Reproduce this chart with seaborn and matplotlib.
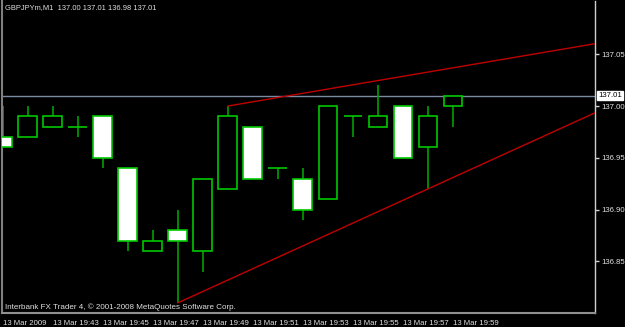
import numpy as np
import pandas as pd
import matplotlib
matplotlib.use("Agg")
import matplotlib.pyplot as plt
import seaborn as sns

# ---- data ----
times = ["19:41", "19:42", "19:43", "19:44", "19:45", "19:46", "19:47", "19:48", "19:49", "19:50",
         "19:51", "19:52", "19:53", "19:54", "19:55", "19:56", "19:57", "19:58", "19:59"]
opens  = [136.97, 136.97, 136.98, 136.98, 136.99, 136.94, 136.86, 136.88, 136.86, 136.92,
          136.98, 136.94, 136.93, 136.91, 136.99, 136.98, 137.00, 136.96, 137.00]
highs  = [137.00, 137.00, 137.00, 136.99, 136.99, 136.94, 136.88, 136.90, 136.93, 137.00,
          136.98, 136.94, 136.94, 137.00, 136.99, 137.02, 137.00, 137.00, 137.01]
lows   = [136.96, 136.97, 136.98, 136.97, 136.94, 136.86, 136.86, 136.81, 136.84, 136.92,
          136.93, 136.93, 136.89, 136.91, 136.97, 136.98, 136.95, 136.92, 136.98]
closes = [136.96, 136.99, 136.99, 136.98, 136.95, 136.87, 136.87, 136.87, 136.93, 136.99,
          136.93, 136.94, 136.90, 137.00, 136.99, 136.99, 136.95, 136.99, 137.01]
xtick_labels = ["13 Mar 2009", "13 Mar 19:43", "13 Mar 19:45", "13 Mar 19:47", "13 Mar 19:49",
                "13 Mar 19:51", "13 Mar 19:53", "13 Mar 19:55", "13 Mar 19:57", "13 Mar 19:59"]
ytick_values = [136.85, 136.90, 136.95, 137.00, 137.05]
current_price = 137.01
upper_anchor_x = [9, 19]
upper_anchor_y = [137.00, 137.041]
lower_anchor_x = [7, 17]
lower_anchor_y = [136.81, 136.92]
title_text = "GBPJPYm,M1  137.00 137.01 136.98 137.01"
footer_text = "Interbank FX Trader 4, \u00a9 2001-2008 MetaQuotes Software Corp."

# ---- style ----
sns.set_theme(style="dark", rc={"axes.facecolor": "black", "figure.facecolor": "black"})
plt.rcParams["font.family"] = ["Liberation Sans", "DejaVu Sans"]

W, H = 625, 327
fig = plt.figure(figsize=(W / 100, H / 100), dpi=100)
ax = fig.add_axes([2 / W, 14 / H, 593 / W, 312 / H])
ax.set_facecolor("black")

x = np.arange(len(times))
xmin, xmax = -0.03, 23.68
ymin, ymax = 136.8002, 137.1014
ax.set_xlim(xmin, xmax)
ax.set_ylim(ymin, ymax)

green = "#00c800"
wick_green = "#00a000"
# wicks
ax.vlines(x, lows, highs, color=wick_green, linewidth=1.2, zorder=2)
# bodies
o = np.array(opens); c = np.array(closes)
bottoms = np.minimum(o, c)
heights = np.abs(c - o)
faces = ["black" if cc > oo else "white" for oo, cc in zip(o, c)]
ax.bar(x, heights, bottom=bottoms, width=0.75, color=faces, edgecolor=green,
       linewidth=1.2, zorder=3)

# current price line
ax.axhline(current_price, color="#7a8aa0", linewidth=1.0, zorder=1)

# trendlines
def extend(ax_x, ax_y):
    slope = (ax_y[1] - ax_y[0]) / (ax_x[1] - ax_x[0])
    xs = [ax_x[0], xmax]
    ys = [ax_y[0], ax_y[0] + slope * (xmax - ax_x[0])]
    return pd.DataFrame({"x": xs, "y": ys})

up = extend(upper_anchor_x, upper_anchor_y)
lo = extend(lower_anchor_x, lower_anchor_y)
sns.lineplot(data=up, x="x", y="y", ax=ax, color="#c00000", linewidth=1.0, zorder=4)
sns.lineplot(data=lo, x="x", y="y", ax=ax, color="#c00000", linewidth=1.0, zorder=4)

# axes / ticks
ax.spines["top"].set_visible(False)
ax.spines["left"].set_color("#808080")
ax.spines["left"].set_linewidth(1.5)
ax.spines["bottom"].set_color("#909090")
ax.spines["bottom"].set_linewidth(1.5)
ax.spines["right"].set_visible(True)
ax.spines["right"].set_color("#d0d0d0")
ax.spines["right"].set_linewidth(1.0)

ax.yaxis.tick_right()
ax.set_yticks(ytick_values)
ax.set_yticklabels([f"{v:.2f}" for v in ytick_values])
ax.set_xticks(x[::2])
ax.set_xticklabels(xtick_labels, ha="left")
ax.tick_params(axis="both", colors="#d0d0d0", labelcolor="#e0e0e0", labelsize=5.6,
               length=3, width=1, direction="out", pad=1.5)
ax.tick_params(axis="x", pad=2)
ax.set_xlabel("")
ax.set_ylabel("")
ax.grid(False)

# current price label box
ax.text(1.0 + 3 / 593, current_price, f"{current_price:.2f}", transform=ax.get_yaxis_transform(),
        ha="left", va="center", fontsize=5.6, color="black",
        bbox=dict(boxstyle="square,pad=0.15", facecolor="white", edgecolor="white"), zorder=10)

# texts
fig.text(5 / W, 1 - 8 / H, title_text, color="#e0e0e0", fontsize=5.4, ha="left", va="center")
fig.text(5 / W, 1 - 307 / H, footer_text, color="#e0e0e0", fontsize=5.8, ha="left", va="center")

fig.savefig("out.png", dpi=100, facecolor="black")
